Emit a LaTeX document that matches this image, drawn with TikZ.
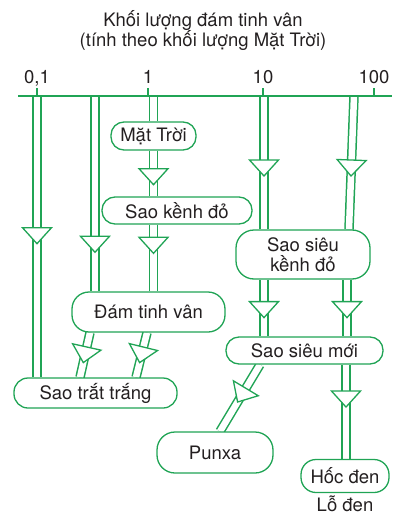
\documentclass[tikz,border=0pt]{standalone}
\usepackage{fontspec}
\setmainfont{TeX Gyre Heros}
\usetikzlibrary{
  positioning,
  shapes.geometric,
  backgrounds,
}
\definecolor{stargreen}{HTML}{20A455}
\definecolor{ink}{HTML}{231F20}
\newcommand{\diagfont}{\fontsize{18.5}{20}\selectfont}
\tikzset{
  stagebox/.style={
    rectangle, rounded corners=13pt, draw=stargreen, fill=white,
    line width=1.3pt, align=center, inner sep=0pt,
    text=ink, font=\diagfont,
  },
  tube/.style={draw=stargreen, double=white, double distance=6.5pt, line width=1.5pt},
  flowtip/.style={
    isosceles triangle, isosceles triangle stretches,
    minimum width=29pt, minimum height=16pt, inner sep=0pt, outer sep=0pt,
    draw=stargreen, fill=white, line width=1.3pt,
    anchor=apex, sloped, allow upside down,
  },
  axisline/.style={draw=stargreen, line width=1.3pt},
  txt/.style={text=ink, font=\diagfont, inner sep=0pt},
}

\begin{document}
\begin{tikzpicture}[x=1pt, y=-1pt]
  \useasboundingbox (0,0) rectangle (402,514);

  % Title
  \node[txt, anchor=base] (title1) at (203,26) {Khối lượng đám tinh vân};
  \node[txt, anchor=base] (title2) at (203,46) {(tính theo khối lượng Mặt Trời)};

  % Mass axis
  \coordinate (axisL) at (18,96);
  \coordinate (axisR) at (392,96);
  \draw[axisline] (axisL) -- (axisR);
  \foreach \x/\val in {37/{0,1}, 148/1, 263/10, 374/100} {
    \draw[axisline] (\x,96) -- (\x,88);
    \node[txt, anchor=base] (mass\x) at (\x,83) {\val};
  }
  \coordinate (s01) at (37,96);
  \coordinate (s03) at (95,96);
  \coordinate (s1) at (153.5,96);
  \coordinate (s10) at (264,96);
  \coordinate (s60) at (354,96);

  % Stages
  \node[stagebox, minimum width=85pt, minimum height=28pt] (sun) at (153.5,136) {Mặt Trời};
  \node[stagebox, minimum width=150pt, minimum height=27pt] (redg) at (177,210.5) {Sao kềnh đỏ};
  \node[stagebox, minimum width=153pt, minimum height=40pt, rounded corners=17pt] (neb) at (148.5,312) {Đám tinh vân};
  \node[stagebox, minimum width=163pt, minimum height=30pt, rounded corners=14pt] (wd) at (95.5,393) {Sao trắt trắng};
  \node[stagebox, minimum width=134pt, minimum height=49pt, rounded corners=18pt] (srg) at (303,254.5) {Sao siêu\\kềnh đỏ};
  \node[stagebox, minimum width=157pt, minimum height=27pt] (sn) at (304.5,350.5) {Sao siêu mới};
  \node[stagebox, minimum width=116pt, minimum height=41pt, rounded corners=18pt] (pul) at (215,452.5) {Punxa};
  \node[stagebox, minimum width=88pt, minimum height=33pt, rounded corners=15pt] (bh) at (345,476) {Hốc đen};
  \node[txt, anchor=base] (bhlab) at (345,511) {Lỗ đen};

  % Evolution tubes
  \begin{scope}[on background layer]
    \draw[tube] (s01) -- node[flowtip, pos=0.525] {} ([xshift=-58.5pt]wd.north);
    \draw[tube] (s03) -- node[flowtip, pos=0.8] {} ([xshift=-53.5pt]neb.north);
    \draw[tube] (s1) -- (sun.north);
    \draw[tube] (sun.south) -- node[flowtip, pos=0.745] {} (sun.south |- redg.north);
    \draw[tube] (sun.south |- redg.south) -- node[flowtip, pos=0.43] {} (sun.south |- neb.north);
    \draw[tube] (s10) -- node[flowtip, pos=0.6] {} (s10 |- srg.north);
    \draw[tube] (s60) -- node[flowtip, pos=0.6] {} ([xshift=46pt]srg.north);
    \draw[tube] (s10 |- srg.south) -- node[flowtip, pos=0.67] {} (s10 |- sn.north);
    \draw[tube] ([xshift=44pt]srg.south) -- node[flowtip, pos=0.67] {} ([xshift=44pt]srg.south |- sn.north);
    \draw[tube] ([xshift=-58.5pt]neb.south) -- node[flowtip, pos=0.67] {} ([xshift=-15.5pt]wd.north);
    \draw[tube] ([xshift=-1.5pt]neb.south) -- node[flowtip, pos=0.67] {} ([xshift=40.5pt]wd.north);
    \draw[tube] ([xshift=-44.5pt]sn.south) -- node[flowtip, pos=0.56] {} ([xshift=5pt]pul.north);
    \draw[tube] ([xshift=41.5pt]sn.south) -- node[flowtip, pos=0.45] {} ([xshift=41.5pt]sn.south |- bh.north);
  \end{scope}

\end{tikzpicture}
\end{document}
